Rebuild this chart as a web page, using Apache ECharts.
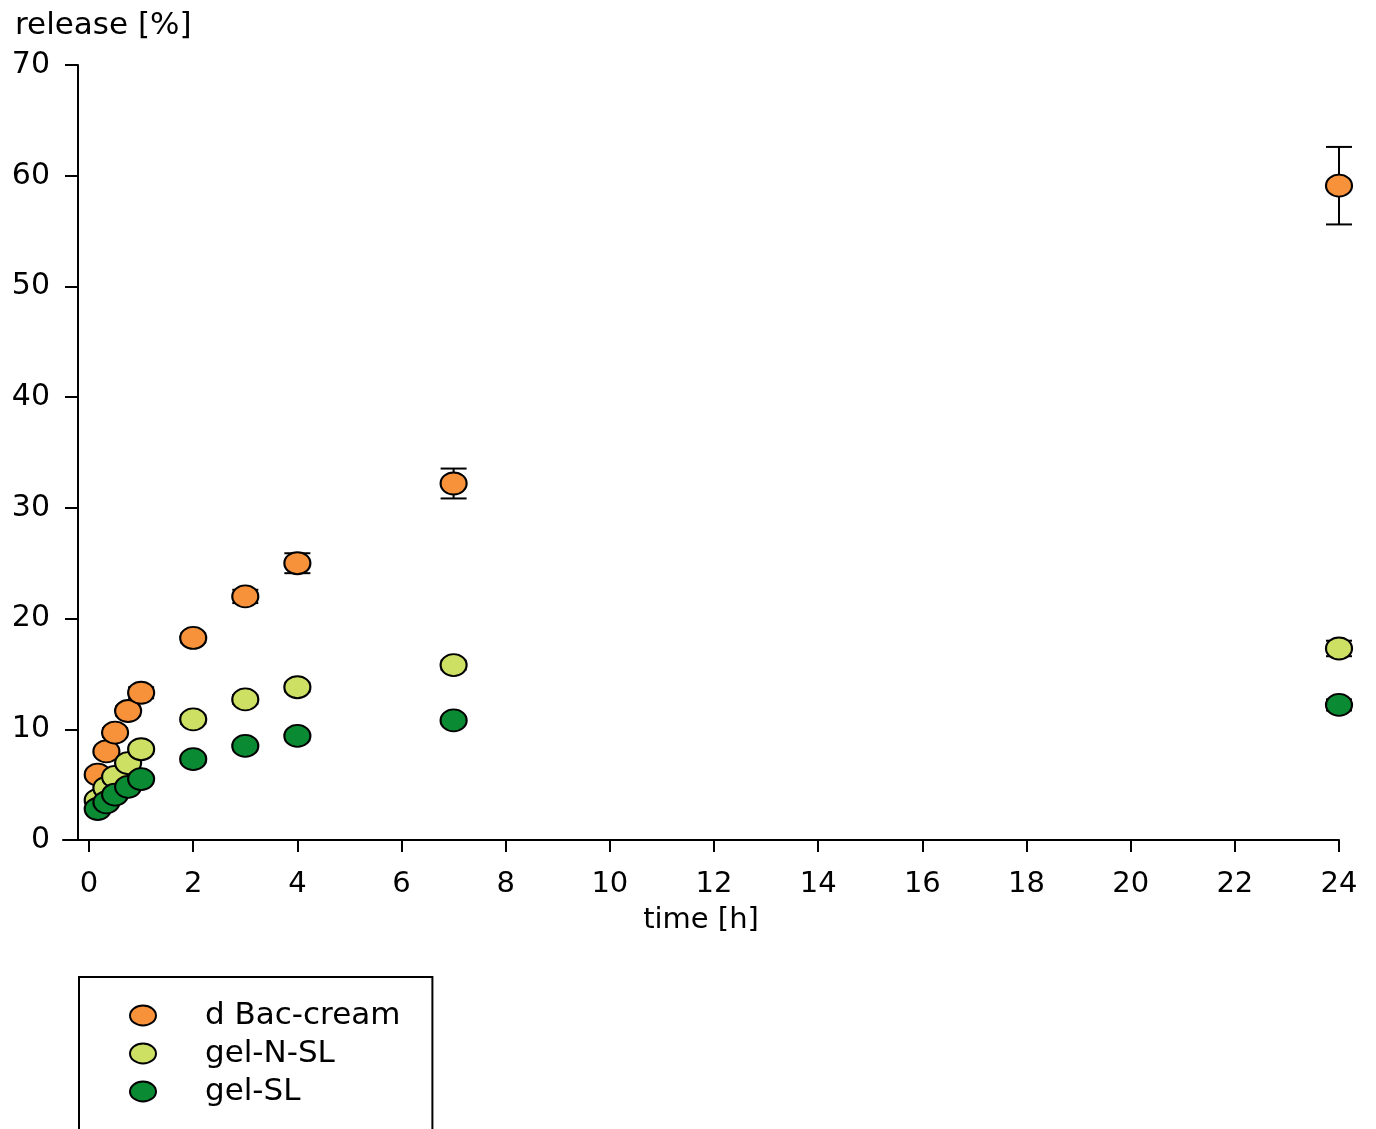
<!DOCTYPE html>
<html style="height: 100%">
<head>
    <meta charset="utf-8">
    <title>release vs time</title>
</head>
<body style="height: 100%; margin: 0; background: #fff">
    <div id="container" style="width: 1376px; height: 1129px"></div>
    <script src="https://cdn.jsdelivr.net/npm/echarts@6/dist/echarts.min.js"></script>
    <script type="text/javascript">
        // sampling times [h]
        var times = [1 / 6, 1 / 3, 0.5, 0.75, 1, 2, 3, 4, 7, 24];
        // release [%] and sd per formulation
        var bacCream = [5.9, 8.0, 9.7, 11.65, 13.3, 18.25, 22.0, 25.0, 32.2, 59.1];
        var bacCreamSd = [0.3, 0.3, 0.4, 0.4, 0.5, 0.4, 0.6, 0.9, 1.35, 3.5];
        var gelNSL = [3.6, 4.7, 5.7, 6.95, 8.2, 10.9, 12.7, 13.8, 15.8, 17.3];
        var gelNSLSd = [0.2, 0.3, 0.3, 0.4, 0.4, 0.4, 0.4, 0.4, 0.4, 0.7];
        var gelSL = [2.8, 3.4, 4.1, 4.8, 5.5, 7.3, 8.5, 9.4, 10.8, 12.2];
        var gelSLSd = [0.2, 0.2, 0.3, 0.3, 0.3, 0.3, 0.3, 0.3, 0.3, 0.5];

        var names = ['d Bac-cream', 'gel-N-SL', 'gel-SL'];
        var colors = ['#F7923A', '#CDE063', '#0A8A32'];
        var xTicks = [0, 2, 4, 6, 8, 10, 12, 14, 16, 18, 20, 22, 24];

        var ellipse = 'path://M0,10A13,10 0 1,0 26,10A13,10 0 1,0 0,10Z';
        var font = 'DejaVu Sans';

        function points(ys) {
            return times.map(function (t, i) { return [t, ys[i]]; });
        }
        function bars(ys, sd) {
            return times.map(function (t, i) { return [t, ys[i] - sd[i], ys[i] + sd[i]]; });
        }

        // error bar: vertical line with caps
        function renderErr(params, api) {
            var lo = api.coord([api.value(0), api.value(1)]);
            var hi = api.coord([api.value(0), api.value(2)]);
            var w = 13;
            var st = { stroke: '#000', lineWidth: 2 };
            return {
                type: 'group',
                children: [
                    { type: 'line', shape: { x1: lo[0], y1: lo[1], x2: hi[0], y2: hi[1] }, style: st },
                    { type: 'line', shape: { x1: lo[0] - w, y1: lo[1], x2: lo[0] + w, y2: lo[1] }, style: st },
                    { type: 'line', shape: { x1: hi[0] - w, y1: hi[1], x2: hi[0] + w, y2: hi[1] }, style: st }
                ]
            };
        }

        var allY = [bacCream, gelNSL, gelSL];
        var allSd = [bacCreamSd, gelNSLSd, gelSLSd];
        var series = [];
        allY.forEach(function (ys, k) {
            series.push({
                name: names[k] + ' sd',
                type: 'custom',
                renderItem: renderErr,
                data: bars(ys, allSd[k]),
                z: 1,
                silent: true
            });
        });
        allY.forEach(function (ys, k) {
            series.push({
                name: names[k],
                type: 'scatter',
                symbol: ellipse,
                symbolSize: [26, 22],
                data: points(ys),
                z: 3,
                itemStyle: { color: colors[k], borderColor: '#000', borderWidth: 2, opacity: 1 }
            });
        });

        var myChart = echarts.init(document.getElementById('container'));
        myChart.setOption({
            animation: false,
            backgroundColor: '#fff',
            title: {
                text: 'release [%]',
                left: 10,
                top: 5,
                textStyle: { fontFamily: font, fontSize: 31, fontWeight: 'normal', color: '#000' }
            },
            legend: {
                data: names,
                orient: 'vertical',
                left: 79,
                top: 977,
                height: 200,
                padding: [23, 32, 60, 50],
                itemGap: 7,
                itemWidth: 26,
                itemHeight: 20,
                icon: ellipse,
                borderColor: '#000',
                borderWidth: 2,
                textStyle: { fontFamily: font, fontSize: 31, lineHeight: 28, color: '#000', padding: [0, 0, 0, 44] }
            },
            grid: { left: 63, right: 37, top: 65, bottom: 289 },
            xAxis: {
                type: 'value',
                min: -0.5,
                max: 24,
                name: 'time [h]',
                nameLocation: 'middle',
                nameGap: 66,
                nameTextStyle: { fontFamily: font, fontSize: 29, color: '#000' },
                axisLine: { onZero: false, lineStyle: { color: '#000', width: 2 } },
                axisTick: { length: 12, customValues: xTicks, lineStyle: { color: '#000', width: 2 } },
                axisLabel: { customValues: xTicks, margin: 30, fontFamily: font, fontSize: 29, color: '#000' },
                splitLine: { show: false }
            },
            yAxis: {
                type: 'value',
                min: 0,
                max: 70,
                interval: 10,
                offset: -15,
                axisLine: { show: true, onZero: false, lineStyle: { color: '#000', width: 2 } },
                axisTick: { show: true, length: 13, lineStyle: { color: '#000', width: 2 } },
                axisLabel: { margin: 28, fontFamily: font, fontSize: 30, color: '#000' },
                splitLine: { show: false }
            },
            series: series
        });
    </script>
</body>
</html>
